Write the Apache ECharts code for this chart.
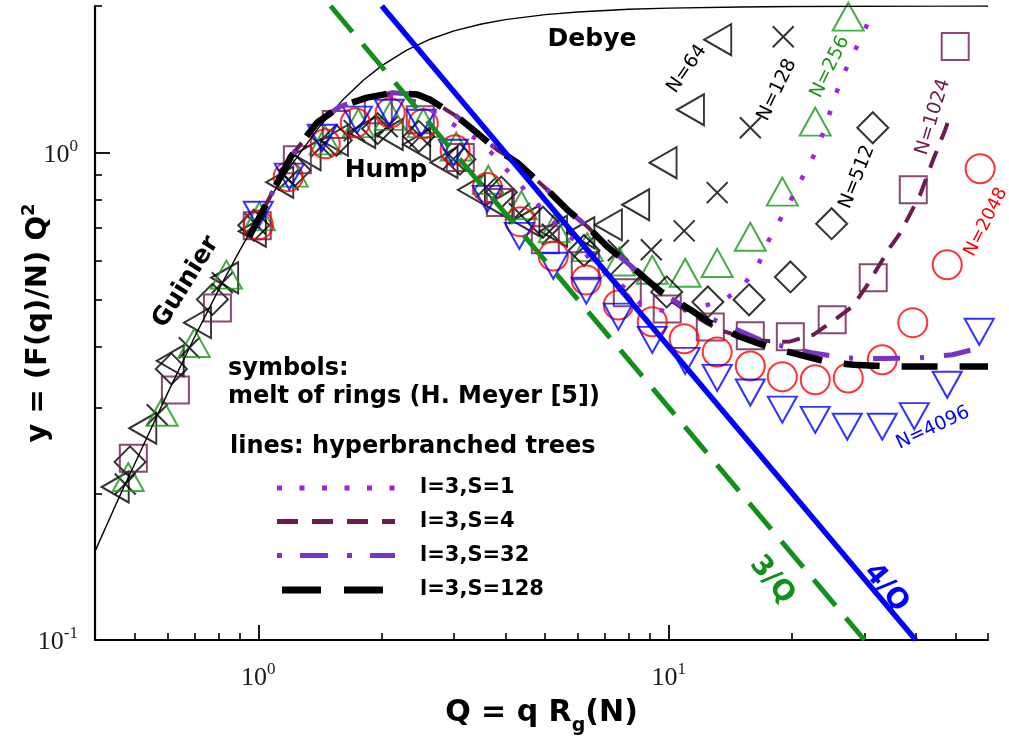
<!DOCTYPE html>
<html><head><meta charset="utf-8">
<script src="https://cdn.jsdelivr.net/npm/echarts@6/dist/echarts.min.js"></script>
<style>html,body{margin:0;padding:0;background:#fff}#c{width:1009px;height:743px}</style>
</head><body><div id="c"></div>
<script>
// ---------- axis ticks ----------
const xMajor = [1, 10];
const xMinor = [0.5,0.6,0.7,0.8,0.9,2,3,4,5,6,7,8,9,20,30,40,50,60];
const yMajor = [0.1, 1];
const yMinor = [0.2,0.3,0.4,0.5,0.6,0.7,0.8,0.9,2];

// ---------- Debye function (thin line) ----------
const debyeQ = [0.4,0.45,0.5,0.6,0.7,0.8,0.9,1.0,1.1,1.2,1.4,1.6,1.8,2.0,2.3,2.6,3.0,3.5,4,5,6,8,10,15,20,30,45,60];
const debyeY = [0.152,0.19,0.23,0.32,0.419,0.523,0.629,0.736,0.84,0.94,1.123,1.279,1.407,1.509,1.624,1.705,1.778,1.837,1.875,1.92,1.944,1.969,1.98,1.991,1.995,1.998,1.999,1.9994];

// ---------- asymptotes ----------
const q3Q = [1.5, 30];  const q3Y = [2.0, 0.1];
const q4Q = [2.0, 40];  const q4Y = [2.0, 0.1];

// ---------- hyperbranched trees (lines) ----------
const s1Q = [0.95,1.09,1.2,1.39,1.58,1.84,2.13,2.44,2.6,3.0,3.44,3.74,4.11,4.6,4.95,5.53,5.99,6.44,7.21,7.75,8.53,9.81,11.29,12.42,13.74,15.11,16.44,17.2,18.19,19.45,20.58,21.88,23.14,24.07,25.03,26.19,27.7,29.3,30.98];
const s1Y = [0.672,0.839,0.981,1.152,1.243,1.297,1.31,1.27,1.23,1.14,1.06,0.99,0.905,0.815,0.76,0.69,0.653,0.603,0.556,0.531,0.49,0.472,0.476,0.487,0.5,0.531,0.581,0.641,0.702,0.771,0.852,0.936,1.029,1.13,1.25,1.399,1.552,1.706,1.893];
const s4Q = [0.95,1.09,1.2,1.39,1.58,1.84,2.13,2.44,2.62,3.05,3.34,3.82,4.28,5.06,5.66,6.34,7.09,7.93,9.02,9.38,10.67,12.42,13.4,15.5,18.4,19.8,22.5,25.75,28.0,30.3,34.7,36.7,41.0,44.1,47.2,48.6];
const s4Y = [0.672,0.839,0.981,1.152,1.243,1.297,1.328,1.316,1.285,1.186,1.115,1.014,0.954,0.839,0.764,0.705,0.641,0.594,0.541,0.52,0.483,0.446,0.432,0.415,0.409,0.41,0.423,0.458,0.483,0.531,0.641,0.685,0.82,0.967,1.115,1.197];
const s32Q = [0.95,1.09,1.2,1.39,1.58,1.84,2.13,2.44,2.62,3.05,3.34,3.82,4.28,5.06,5.66,6.34,7.09,7.93,9.02,9.54,10.85,13.36,17.39,19.79,22.5,27.1,33.2,40.3,49.1,54.9,60];
const s32Y = [0.672,0.839,0.981,1.152,1.243,1.297,1.328,1.316,1.285,1.186,1.115,1.014,0.954,0.839,0.764,0.705,0.641,0.594,0.541,0.522,0.483,0.448,0.407,0.398,0.388,0.379,0.378,0.379,0.385,0.394,0.404];
const s128Q = [0.95,1.09,1.2,1.39,1.58,1.84,2.13,2.44,2.62,3.05,3.34,3.82,4.28,5.06,5.66,6.34,7.09,7.93,9.02,9.54,11.3,12.6,14.9,17.4,20.1,24.4,28.2,34.7,39.5,49.1,60];
const s128Y = [0.672,0.839,0.981,1.152,1.243,1.297,1.328,1.316,1.285,1.186,1.115,1.014,0.954,0.839,0.764,0.705,0.641,0.594,0.541,0.52,0.476,0.448,0.419,0.400,0.388,0.372,0.367,0.364,0.364,0.364,0.364];

// ---------- melt of rings (symbols) ----------
const n64Q = [0.448,0.523,0.610,0.711,0.828,0.967,1.128,1.315,1.533,1.787,2.085,2.432,2.835,3.306,3.855,4.49,5.24,6.11,7.13,8.31,9.69,11.3,13.17];
const n64Y = [0.206,0.272,0.374,0.448,0.554,0.69,0.87,0.99,1.06,1.10,1.09,1.04,0.955,0.839,0.78,0.725,0.69,0.685,0.711,0.782,0.954,1.225,1.706];
const n128Q = [0.474,0.567,0.679,0.817,0.983,1.183,1.424,1.713,2.062,2.481,2.987,3.594,4.325,5.205,6.263,7.539,9.07,10.91,13.13,15.81,19.02];
const n128Y = [0.209,0.29,0.398,0.541,0.715,0.88,1.03,1.11,1.13,1.08,0.97,0.85,0.75,0.68,0.645,0.63,0.632,0.691,0.828,1.125,1.73];
const n256Q = [0.482,0.583,0.698,0.836,1.006,1.21,1.456,1.753,2.097,2.524,3.037,3.635,4.374,5.263,6.336,7.58,9.12,10.97,13.13,15.81,18.92,22.76,27.39];
const n256Y = [0.216,0.294,0.407,0.562,0.74,0.91,1.06,1.15,1.19,1.15,1.03,0.88,0.78,0.70,0.64,0.598,0.575,0.567,0.594,0.672,0.832,1.158,1.902];
const n512Q = [0.487,0.614,0.773,0.975,1.229,1.549,1.953,2.462,3.10,3.91,4.94,6.22,7.85,9.89,12.46,15.7,19.8,24.95,31.43];
const n512Y = [0.232,0.36,0.50,0.71,0.92,1.06,1.12,1.08,0.97,0.83,0.72,0.63,0.56,0.518,0.494,0.499,0.556,0.715,1.125];
const n1024Q = [0.496,0.628,0.795,0.994,1.245,1.549,1.961,2.481,3.106,3.888,5.005,6.263,7.928,9.92,12.63,15.81,19.79,25.03,31.51,39.45,49.92];
const n1024Y = [0.236,0.326,0.480,0.708,0.967,1.142,1.225,1.169,0.977,0.790,0.663,0.586,0.516,0.478,0.439,0.421,0.419,0.454,0.554,0.839,1.651];
const n2048Q = [1.0,1.183,1.456,1.723,2.096,2.524,3.017,3.614,4.347,5.234,6.298,7.539,9.12,10.91,13.13,15.81,18.92,22.76,27.39,33.15,39.34,47.73,57.4];
const n2048Y = [0.711,0.893,1.043,1.152,1.208,1.147,1.014,0.848,0.722,0.614,0.548,0.487,0.450,0.415,0.390,0.365,0.347,0.342,0.345,0.376,0.448,0.589,0.927];
const n4096Q = [1.0,1.19,1.432,1.743,2.086,2.496,2.987,3.614,4.325,5.234,6.298,7.539,9.12,10.97,13.13,15.81,18.92,22.76,27.24,33.15,39.67,47.73,57.12];
const n4096Y = [0.746,0.893,1.073,1.169,1.208,1.152,1.0,0.804,0.675,0.586,0.521,0.461,0.413,0.374,0.345,0.322,0.297,0.283,0.274,0.274,0.288,0.334,0.429];

const legendNames = ['l=3,S=1','l=3,S=4','l=3,S=32','l=3,S=128'];

// ---------- styling ----------
const COL = {green:'#1a961a', green3:'#11901a', blue:'#0000ff', red:'#ff0000', maroon:'#6c1c50', s1:'#9b22e6', s32:'#7a33c4', black:'#000'};
const SANS = 'DejaVu Sans';
const SERIF = 'Liberation Serif';

function zip(q, y){ return q.map((v,i)=>[v, y[i]]); }
function powLabel(v){ const e = Math.round(Math.log10(v)); return '{b|10}{s|' + e + '}'; }
const serifRich = {
  b:{fontFamily:SERIF, fontSize:26, color:'#1a1a1a', verticalAlign:'bottom'},
  s:{fontFamily:SERIF, fontSize:17, color:'#1a1a1a', verticalAlign:'bottom', padding:[0,0,13,0]}
};
const hollow = c => ({color:'rgba(0,0,0,0)', borderColor:c, borderWidth:2});

function scatter(name, q, y, symbol, size, color, rot){
  return {type:'scatter', name, data:zip(q,y), symbol, symbolSize:size, symbolRotate:rot||0,
    itemStyle:hollow(color), z:3, silent:true};
}
function line(name, q, y, color, width, type, z){
  return {type:'line', name, data:zip(q,y), showSymbol:false, symbol:'none', smooth:false,
    lineStyle:{color, width, type: type || 'solid', cap:'butt'}, z: z||4, silent:true};
}

const series = [
  scatter('N=64', n64Q, n64Y, 'triangle', [31,27], COL.black, 90),
  scatter('N=128', n128Q, n128Y, 'path://M0,0L20,20M20,0L0,20', [21,21], COL.black),
  scatter('N=256', n256Q, n256Y, 'triangle', [31,28], COL.green),
  scatter('N=512', n512Q, n512Y, 'diamond', [31,31], COL.black),
  scatter('N=1024', n1024Q, n1024Y, 'rect', [27,27], COL.maroon),
  scatter('N=2048', n2048Q, n2048Y, 'circle', [29,29], COL.red),
  scatter('N=4096', n4096Q, n4096Y, 'triangle', [29,26], COL.blue, 180),
  line('Debye', debyeQ, debyeY, COL.black, 1.4, 'solid', 5),
  line(legendNames[0], s1Q, s1Y, COL.s1, 4.5, [4.5,19], 6),
  line(legendNames[1], s4Q, s4Y, COL.maroon, 4, [18,12], 6),
  line(legendNames[2], s32Q, s32Y, COL.s32, 5, [27,20,4,20], 6),
  line(legendNames[3], s128Q, s128Y, COL.black, 6.5, [36,22], 7),
  line('3/Q', q3Q, q3Y, COL.green3, 5, [34,16], 8),
  line('4/Q', q4Q, q4Y, COL.blue, 5.5, 'solid', 8)
];

function txt(text, x, y, opts){
  opts = opts || {};
  return {type:'text', x, y, rotation:(opts.rot||0)*Math.PI/180, z:20, silent:true,
    style:{text, fill:opts.color||'#000', font:(opts.weight||'bold')+' '+(opts.size||24)+'px "'+SANS+'"',
      textAlign:opts.align||'center', textVerticalAlign:'middle'}};
}
function lg(y, x1, x2, color, width, dash){
  return {type:'line', z:20, silent:true, shape:{x1, y1:y, x2, y2:y},
    style:{stroke:color, lineWidth:width, lineDash:dash, lineCap:'butt'}};
}
const legendRows = [488, 521.5, 555.5, 590];
const graphic = [
  txt('Debye', 592, 39, {size:25}),
  txt('Hump', 386, 170, {size:25}),
  txt('Guinier', 186, 282, {size:25, rot:58}),
  txt('symbols:', 228, 369, {size:24, align:'left'}),
  txt('melt of rings (H. Meyer [5])', 228, 397, {size:24, align:'left'}),
  txt('lines: hyperbranched trees', 230, 447, {size:24, align:'left'}),
  txt('N=64', 687, 69, {size:19, weight:'normal', rot:55}),
  txt('N=128', 777, 90, {size:19, weight:'normal', rot:64}),
  txt('N=256', 830, 67, {size:19, weight:'normal', rot:64, color:COL.green}),
  txt('N=512', 857, 177, {size:19, weight:'normal', rot:68}),
  txt('N=1024', 933, 117, {size:19, weight:'normal', rot:73, color:COL.maroon}),
  txt('N=2048', 986, 222, {size:18, weight:'normal', rot:63, color:COL.red}),
  txt('N=4096', 933, 428, {size:19, weight:'normal', rot:25, color:COL.blue}),
  txt('3/Q', 772, 580, {size:28, rot:-50, color:COL.green3}),
  txt('4/Q', 886, 588, {size:28, rot:-50, color:COL.blue}),
  lg(legendRows[0], 277, 395, COL.s1, 5, [5,17.5]),
  lg(legendRows[1], 277, 395, COL.maroon, 5, [21,14]),
  lg(legendRows[2], 277, 395, COL.s32, 5, [5,18,28,19]),
  lg(legendRows[3], 282, 383, COL.black, 7, [39,23]),
  txt(legendNames[0], 420, legendRows[0], {size:21, align:'left'}),
  txt(legendNames[1], 420, legendRows[1], {size:21, align:'left'}),
  txt(legendNames[2], 420, legendRows[2], {size:21, align:'left'}),
  txt(legendNames[3], 420, legendRows[3], {size:21, align:'left'})
];

const axisLine = {show:true, onZero:false, lineStyle:{color:'#000', width:2.2}};
const titleRich = {
  t:{fontFamily:SANS, fontWeight:'bold', fontSize:30, color:'#000', verticalAlign:'bottom', padding:[0,0,8,0]},
  g:{fontFamily:SANS, fontWeight:'bold', fontSize:19, color:'#000', verticalAlign:'bottom'}
};
const yTitleRich = {
  t:{fontFamily:SANS, fontWeight:'bold', fontSize:29, color:'#000', verticalAlign:'bottom'},
  s:{fontFamily:SANS, fontWeight:'bold', fontSize:18, color:'#000', verticalAlign:'bottom', padding:[0,0,15,0]}
};

const option = {
  animation:false,
  backgroundColor:'#fff',
  grid:{left:95, right:21, top:6, bottom:103, containLabel:false, outerBoundsMode:'none'},
  xAxis:[
    {type:'log', logBase:10, min:0.4, max:60, position:'bottom', axisLine,
     axisTick:{show:true, inside:true, length:15, customValues:xMajor, lineStyle:{color:'#000', width:1.8}},
     axisLabel:{show:true, customValues:xMajor, formatter:powLabel, rich:serifRich, margin:21},
     splitLine:{show:false}, minorTick:{show:false},
     name:'{t|Q = q R}{g|g}{t|(N)}', nameLocation:'middle', nameGap:58, nameMoveOverlap:false,
     nameTextStyle:{rich:titleRich}},
    {type:'log', logBase:10, min:0.4, max:60, position:'bottom', axisLine:{show:false},
     axisTick:{show:true, inside:true, length:7, customValues:xMinor, lineStyle:{color:'#000', width:1.6}},
     axisLabel:{show:false}, splitLine:{show:false}}
  ],
  yAxis:[
    {type:'log', logBase:10, min:0.1, max:2, position:'left', axisLine,
     axisTick:{show:true, inside:true, length:15, customValues:yMajor, lineStyle:{color:'#000', width:1.8}},
     axisLabel:{show:true, customValues:yMajor, formatter:powLabel, rich:serifRich, margin:17},
     splitLine:{show:false}, minorTick:{show:false},
     name:'{t|y = (F(q)/N) Q}{s|2}', nameLocation:'middle', nameRotate:90, nameGap:42, nameMoveOverlap:false,
     nameTextStyle:{rich:yTitleRich}},
    {type:'log', logBase:10, min:0.1, max:2, position:'left', axisLine:{show:false},
     axisTick:{show:true, inside:true, length:7, customValues:yMinor, lineStyle:{color:'#000', width:1.6}},
     axisLabel:{show:false}, splitLine:{show:false}}
  ],
  series: series.map(s => Object.assign(s, {xAxisIndex:0, yAxisIndex:0})),
  graphic
};
const chart = echarts.init(document.getElementById('c'));
chart.setOption(option);
</script>
</body></html>
